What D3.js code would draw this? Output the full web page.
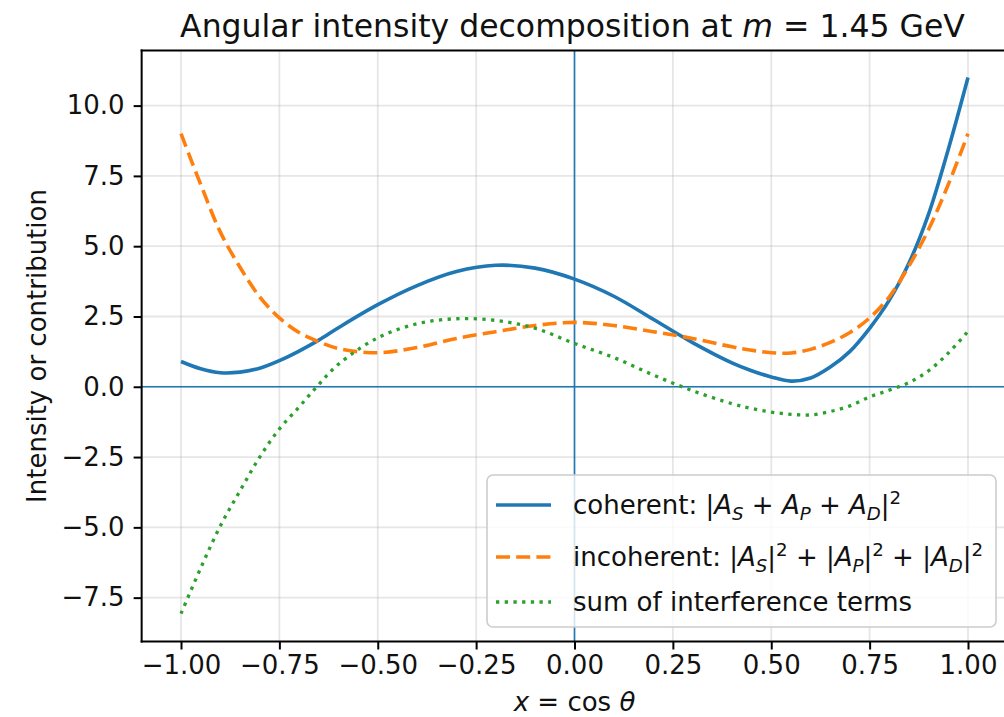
<!DOCTYPE html>
<html>
<head>
<meta charset="utf-8">
<script src="https://cdn.jsdelivr.net/npm/d3@7"></script>
<style>
  body { margin: 0; background: #fff; }
  svg { display: block; }
  text { font-family: "DejaVu Sans", sans-serif; fill: #111; }
</style>
</head>
<body>
<div id="chart"></div>
<script>
// values
var xs = [-1, -0.95, -0.9, -0.85, -0.8, -0.75, -0.7, -0.65, -0.6, -0.5, -0.4, -0.3, -0.2, -0.1, 0,
          0.1, 0.2, 0.3, 0.4, 0.45, 0.5, 0.55, 0.6, 0.65, 0.7, 0.75, 0.8, 0.85, 0.9, 0.95, 1];
var coherent = [0.90, 0.64, 0.50, 0.52, 0.66, 0.93, 1.27, 1.66, 2.10, 2.92, 3.60, 4.10, 4.32, 4.22, 3.83,
                3.22, 2.40, 1.57, 0.85, 0.57, 0.35, 0.20, 0.31, 0.70, 1.26, 2.08, 3.08, 4.40, 6.15, 8.45, 11.0];
var incoherent = [9.0, 7.2, 5.5, 4.25, 3.2, 2.45, 1.93, 1.60, 1.36, 1.21, 1.40, 1.72, 1.96, 2.18, 2.29,
                  2.18, 1.96, 1.72, 1.42, 1.30, 1.21, 1.20, 1.33, 1.58, 1.93, 2.45, 3.2, 4.3, 5.6, 7.2, 9.0];
var interference = [-8.07, -6.45, -4.95, -3.7, -2.5, -1.5, -0.72, 0.08, 0.80, 1.74, 2.24, 2.42, 2.36, 2.08, 1.54,
                    1.04, 0.42, -0.14, -0.60, -0.77, -0.90, -0.98, -1.0, -0.88, -0.68, -0.36, -0.12, 0.15, 0.57, 1.2, 1.97];

var xTicks = [-1, -0.75, -0.5, -0.25, 0, 0.25, 0.5, 0.75, 1];
var yTicks = [-7.5, -5, -2.5, 0, 2.5, 5, 7.5, 10];

var svgWidth = 1004, svgHeight = 717;
var fs = 26;

var svg = d3.select("#chart").append("svg")
    .attr("width", svgWidth)
    .attr("height", svgHeight);

var x = d3.scaleLinear().domain([-1.1, 1.1]).range([141.65, 1007.35]);
var y = d3.scaleLinear().domain([-9.06, 11.96]).range([641.5, 50.5]);

var plotLeft = x.range()[0], plotRight = x.range()[1];
var plotTop = y.range()[1], plotBottom = y.range()[0];

svg.append("clipPath").attr("id", "plotclip")
    .append("rect")
    .attr("x", plotLeft).attr("y", plotTop)
    .attr("width", plotRight - plotLeft).attr("height", plotBottom - plotTop);

// grid
var grid = svg.append("g");
grid.selectAll(".gx").data(xTicks).enter().append("line")
    .attr("x1", d => x(d)).attr("x2", d => x(d))
    .attr("y1", plotTop).attr("y2", plotBottom)
    .attr("stroke", "#b0b0b0").attr("stroke-opacity", 0.32).attr("stroke-width", 1.8);
grid.selectAll(".gy").data(yTicks).enter().append("line")
    .attr("x1", plotLeft).attr("x2", plotRight)
    .attr("y1", d => y(d)).attr("y2", d => y(d))
    .attr("stroke", "#b0b0b0").attr("stroke-opacity", 0.32).attr("stroke-width", 1.8);

var plot = svg.append("g").attr("clip-path", "url(#plotclip)");

// zero reference lines
plot.append("line")
    .attr("x1", plotLeft).attr("x2", plotRight).attr("y1", y(0)).attr("y2", y(0))
    .attr("stroke", "#1f77b4").attr("stroke-width", 1.6);
plot.append("line")
    .attr("x1", x(0)).attr("x2", x(0)).attr("y1", plotTop).attr("y2", plotBottom)
    .attr("stroke", "#1f77b4").attr("stroke-width", 1.6);

var series = [
    { name: "coherent", values: coherent, color: "#1f77b4", dash: null, width: 3.6 },
    { name: "incoherent", values: incoherent, color: "#ff7f0e", dash: "14,6.2", width: 3.6 },
    { name: "interference", values: interference, color: "#2ca02c", dash: "3.3,5.4", width: 3.3 }
];

var line = d3.line()
    .x(function(d) { return x(d[0]); })
    .y(function(d) { return y(d[1]); })
    .curve(d3.curveCatmullRom.alpha(0.5));

series.forEach(function(s) {
    plot.append("path")
        .datum(xs.map(function(v, i) { return [v, s.values[i]]; }))
        .attr("d", line)
        .attr("fill", "none")
        .attr("stroke", s.color)
        .attr("stroke-width", s.width)
        .attr("stroke-dasharray", s.dash);
});

// spines
svg.append("line").attr("x1", plotLeft).attr("x2", plotLeft).attr("y1", plotTop - 1).attr("y2", plotBottom + 1)
    .attr("stroke", "#000").attr("stroke-width", 2);
svg.append("line").attr("x1", plotLeft - 1).attr("x2", plotRight).attr("y1", plotBottom).attr("y2", plotBottom)
    .attr("stroke", "#000").attr("stroke-width", 2);
svg.append("line").attr("x1", plotLeft - 1).attr("x2", plotRight).attr("y1", plotTop).attr("y2", plotTop)
    .attr("stroke", "#000").attr("stroke-width", 2);

// axes
var xAxis = svg.append("g")
    .attr("transform", "translate(0," + plotBottom + ")")
    .call(d3.axisBottom(x).tickValues(xTicks).tickSize(8).tickPadding(6)
        .tickFormat(function(d) { return d3.format(".2f")(d).replace("-", "\u2212"); }));
var yAxis = svg.append("g")
    .attr("transform", "translate(" + plotLeft + ",0)")
    .call(d3.axisLeft(y).tickValues(yTicks).tickSize(8).tickPadding(9)
        .tickFormat(function(d) { return d3.format(".1f")(d).replace("-", "\u2212"); }));

[xAxis, yAxis].forEach(function(a) {
    a.select(".domain").remove();
    a.selectAll(".tick line").attr("stroke", "#000").attr("stroke-width", 2);
    a.selectAll(".tick text")
        .attr("font-family", "DejaVu Sans, sans-serif")
        .attr("font-size", fs)
        .attr("fill", "#111");
});

// builds mathtext-like text from parts
function mathText(sel, parts, size) {
    var shift = 0;
    parts.forEach(function(p) {
        var target = p.sub ? size * 0.22 : (p.sup ? -size * 0.38 : 0);
        var ts = sel.append("tspan").attr("dy", target - shift).text(p.t);
        shift = target;
        if (p.i) ts.attr("font-style", "italic");
        if (p.sub || p.sup) ts.attr("font-size", size * 0.7);
    });
}

// title
var title = svg.append("text")
    .attr("x", (plotLeft + plotRight) / 2 - 2)
    .attr("y", 37)
    .attr("text-anchor", "middle")
    .attr("font-size", 31.5);
mathText(title, [
    { t: "Angular intensity decomposition at " },
    { t: "m", i: true },
    { t: " = 1.45 GeV" }
], 31.5);

// x label
var xLabel = svg.append("text")
    .attr("x", (plotLeft + plotRight) / 2)
    .attr("y", 711)
    .attr("text-anchor", "middle")
    .attr("font-size", fs);
mathText(xLabel, [
    { t: "x", i: true },
    { t: " = cos " },
    { t: "\u03b8", i: true }
], fs);

// y label
svg.append("text")
    .attr("transform", "translate(46," + ((plotTop + plotBottom) / 2) + ") rotate(-90)")
    .attr("text-anchor", "middle")
    .attr("font-size", fs)
    .text("Intensity or contribution");

// legend
var legend = svg.append("g");
legend.append("rect")
    .attr("x", 487).attr("y", 475)
    .attr("width", 509).attr("height", 152)
    .attr("rx", 6)
    .attr("fill", "#fff").attr("fill-opacity", 0.8)
    .attr("stroke", "#cccccc").attr("stroke-width", 1.6);

var legendRows = [
    [{ t: "coherent: |" }, { t: "A", i: true }, { t: "S", i: true, sub: true }, { t: " + " },
     { t: "A", i: true }, { t: "P", i: true, sub: true }, { t: " + " },
     { t: "A", i: true }, { t: "D", i: true, sub: true }, { t: "|" }, { t: "2", sup: true }],
    [{ t: "incoherent: |" }, { t: "A", i: true }, { t: "S", i: true, sub: true }, { t: "|" }, { t: "2", sup: true },
     { t: " + |" }, { t: "A", i: true }, { t: "P", i: true, sub: true }, { t: "|" }, { t: "2", sup: true },
     { t: " + |" }, { t: "A", i: true }, { t: "D", i: true, sub: true }, { t: "|" }, { t: "2", sup: true }],
    [{ t: "sum of interference terms" }]
];
var rowY = [505, 557, 602];

series.forEach(function(s, i) {
    legend.append("line")
        .attr("x1", 496).attr("x2", 551)
        .attr("y1", rowY[i]).attr("y2", rowY[i])
        .attr("stroke", s.color)
        .attr("stroke-width", s.width)
        .attr("stroke-dasharray", s.dash);
    var t = legend.append("text")
        .attr("x", 573)
        .attr("y", rowY[i] + 9)
        .attr("font-size", fs);
    mathText(t, legendRows[i], fs);
});
</script>
</body>
</html>
